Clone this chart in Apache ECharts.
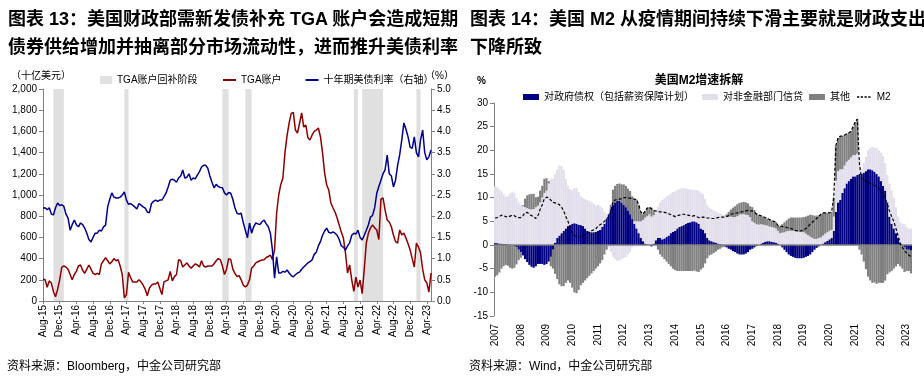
<!DOCTYPE html>
<html><head><meta charset="utf-8">
<script src="https://cdn.jsdelivr.net/npm/echarts@6/dist/echarts.min.js"></script>
<style>
html,body{margin:0;padding:0;background:#fff;}
#wrap{position:relative;width:924px;height:377px;overflow:hidden;}
#chart{position:absolute;left:0;top:0;width:924px;height:377px;}
.h{position:absolute;font-family:'Liberation Sans','Noto Sans CJK SC',sans-serif;font-weight:bold;font-size:18px;line-height:28px;color:#000;white-space:nowrap;}
.s{position:absolute;font-family:'Liberation Sans','Noto Sans CJK SC',sans-serif;font-size:12px;color:#000;white-space:nowrap;}
</style></head>
<body><div id="wrap">
<div id="chart"></div>
<div class="h" style="left:8px;top:5px;">图表 13：美国财政部需新发债补充 TGA 账户会造成短期<br>债券供给增加并抽离部分市场流动性，进而推升美债利率</div>
<div class="h" style="left:470px;top:5px;">图表 14：美国 M2 从疫情期间持续下滑主要就是财政支出<br>下降所致</div>
<div class="s" style="left:7px;top:356px;">资料来源：Bloomberg，中金公司研究部</div>
<div class="s" style="left:469px;top:356px;">资料来源：Wind，中金公司研究部</div>
</div>
<script>
// ---------- Left chart data (half-monthly, Aug-2015 .. May-2023) ----------
const tga = [
207,200, 130,190, 170,90, 40,110, 200,320,
330,320, 300,250, 200,250, 280,330, 340,290, 260,300, 340,300, 260,250, 260,250, 350,380, 410,380, 350,370,
400,380, 390,330, 250,30, 60,270, 220,180, 180,180, 200,180, 150,110, 50,120, 150,160, 160,180, 120,60,
180,190, 200,280, 190,230, 250,390, 380,320, 340,360, 330,310, 330,350, 340,320, 380,330, 320,330, 330,330,
350,380, 400,390, 330,250, 300,400, 390,300, 260,230, 240,200, 150,132, 150,200, 310,330, 360,370, 380,387,
390,410, 420,434, 390,480, 830,1000, 1100,1160, 1400,1560, 1680,1770, 1780,1613, 1585,1679, 1774,1641, 1660,1540, 1519,1566,
1600,1613, 1632,1550, 1400,1208, 1094,1047, 924,880, 840,783, 717,650, 594,453, 264,340, 200,90, 226,132, 198,70,
300,547, 640,690, 717,690, 670,580, 960,972, 858,764, 745,700, 623,560, 547,670, 623,640, 594,540, 481,400,
321,547, 509,453, 300,200, 170,85, 264
];
const ust10y = [
2.19,2.2, 2.15,2.2, 2.05,2.03, 2.2,2.31, 2.25,2.27,
2.23,2.05, 1.96,1.67, 1.8,1.91, 1.8,1.75, 1.84,1.8, 1.72,1.6, 1.45,1.39, 1.5,1.6, 1.6,1.67, 1.65,1.75, 1.79,2.22, 2.4,2.55,
2.45,2.43, 2.43,2.45, 2.5,2.57, 2.38,2.28, 2.3,2.26, 2.22,2.17, 2.3,2.26, 2.22,2.19, 2.1,2.08, 2.3,2.35, 2.38,2.35, 2.38,2.38,
2.46,2.55, 2.69,2.85, 2.87,2.85, 2.8,2.9, 2.95,3.09, 2.9,2.92, 3.0,2.85, 2.9,2.88, 2.97,3.05, 3.16,3.2, 3.2,3.13, 2.95,2.8,
2.67,2.75, 2.7,2.68, 2.67,2.55, 2.5,2.56, 2.54,2.4, 2.2,2.07, 2.05,2.07, 1.85,1.67, 1.49,1.84, 1.6,1.75, 1.84,1.82, 1.8,1.87,
1.91,1.82, 1.75,1.6, 1.2,0.54, 1.04,0.66, 0.66,0.7, 0.68,0.73, 0.66,0.6, 0.57,0.62, 0.66,0.68, 0.75,0.8, 0.85,0.9, 0.93,0.97,
1.1,1.15, 1.3,1.4, 1.55,1.65, 1.72,1.62, 1.6,1.63, 1.6,1.55, 1.45,1.3, 1.27,1.2, 1.3,1.37, 1.55,1.6, 1.58,1.67, 1.5,1.44,
1.55,1.67, 1.8,1.98, 2.02,2.2, 2.54,2.7, 2.85,3.0, 3.1,3.44, 3.0,2.95, 2.69,2.85, 3.2,3.45, 3.8,4.2, 4.05,3.87, 3.63,3.6,
3.87,3.5, 3.4,3.8, 4.03,3.5, 3.33,3.4, 3.56
];
const tgaPhases = [
['2015-10-15','2016-01-01'],['2017-03-15','2017-04-15'],['2019-03-01','2019-04-15'],
['2019-08-15','2019-10-01'],['2021-10-15','2021-11-15'],['2021-12-15','2022-05-15'],['2023-01-15','2023-02-15']
];

// ---------- Right chart data (monthly, Jan-2007 .. Mar-2023) ----------
const govClaims = [
0.4,0.4,0.3,0.3,0.2,0.2,0.1,0.1,0,-0.2,-0.5,-1.0,
-1.5,-2.2,-3,-3.6,-4.2,-4.6,-4.8,-4.5,-4,-4,-4,-4.2,
-4,-3.5,-2.5,-1,0.5,1.5,2,2.5,3,3.5,4,4.2,
4.5,4.6,4.5,4.3,4.2,4,3.5,3,2.8,2.7,2.7,2.8,
3,3.2,3.8,4.5,5.5,6.5,7.5,8.5,9,9.3,9.3,9,
8.5,8,7.3,6.5,5.5,4.5,3.5,2.5,1.5,0.8,0.3,0.1,
0,-0.3,0.3,1,1.5,1.5,1.2,1.4,1.7,2,2.5,2.8,
3,3.5,3.8,4,4.2,4.5,4.7,4.8,5,5,4.8,4.5,
3.5,3.2,2.5,1.5,1,0.8,0.6,0.5,0.3,0.2,0,-0.3,
-0.5,-0.8,-1,-1.3,-1.5,-1.8,-2,-2,-2,-1.8,-1.5,-1,
-0.8,-0.5,-0.2,0,0.3,0.5,0.7,0.8,0.8,0.7,0.6,0.5,
0.3,0,-0.5,-1,-1.5,-2,-2.3,-2.5,-2.7,-2.8,-2.8,-2.8,
-2.7,-2.5,-2.3,-2,-1.5,-1,-0.6,-0.3,0,0.3,0.6,0.9,
1.2,1.5,3,7,9,9.5,11,12,13,13.5,14,14.5,
14.5,14.8,15,15,15.3,15.6,16,16,15.8,15.5,15,14.5,
13.5,12.5,11.5,9,6,4.5,3.5,2.5,1.5,0.5,0,-0.5,
-1,-1,-1.2
];
const nonfinCredit = [
12.0,11.8,11.5,11.0,10.5,10.0,10.2,10.8,11.3,11.0,10.0,9.0,
8.5,8.2,8.0,7.8,7.6,7.5,7.6,8.0,8.3,9.0,10.0,11.0,
11.5,13,14,14,14.5,14.5,14.8,14.2,12.9,10.5,8.5,7.6,
7.0,7.4,7.5,6.9,6.1,5.9,6.2,6.5,6.5,6.3,6.0,5.6,
5.5,5,4,2.5,1,-0.5,-1.5,-2.5,-3,-3.3,-3.3,-3,
-2.8,-2.5,-2,-1.5,-0.5,0.5,1.5,2.5,3.5,4.5,5.5,6,
6.5,6.0,6.0,6.2,6.6,7.5,8.3,8.5,8.6,8.6,8.4,8.4,
8.3,8.2,8.0,8.0,7.8,7.4,7.1,6.9,6.6,6.6,6.8,7.0,
7.5,7.5,7.2,7,6.9,6.8,6.7,6.6,6.5,6.5,6.4,6.3,
6.0,6.0,6.0,5.9,5.9,6.1,6.4,6.5,6.5,6.4,6.3,5.9,
5.0,4.7,4.4,4.3,4.1,3.8,3.5,3.3,3.1,3.1,3.1,3.0,
2.7,2.5,2.6,2.7,2.9,3.0,3.0,3.0,2.9,2.9,2.8,2.8,
2.7,2.4,2.1,1.8,1.5,1.3,1.3,1.5,1.6,1.7,1.8,1.8,
1.8,1.7,3.0,6.6,6.6,6.5,5,4.8,4.6,4.5,4.5,4.5,
4.5,4.5,3,1,2,3,4,4.5,5,5,5.5,5.5,
6,6.3,5.8,5.8,7,7,6.5,5.5,4.5,4.3,4.5,4.5,
3.8,3.4,3.5
];
const otherItems = [
-6.7,-6.4,-5.8,-5,-4.5,-4.2,-4.4,-4.8,-5,-4.6,-3.6,-2.2,
-1.2,0.2,1.8,2.7,3.1,3.3,3.2,2.1,1.9,2.5,2.5,3,
2.6,0.5,-2,-4,-6.1,-7.2,-8.3,-8.7,-8.7,-8,-7.5,-8,
-9,-10,-10.2,-9.5,-8.5,-8,-7.5,-7,-6.5,-6,-5.5,-5,
-4.5,-3.9,-3.2,-2.0,-1.0,0,1.0,3.2,3.5,3.6,3.7,3.8,
4.3,4.5,4.6,4.9,4.8,4.7,4.6,3.5,2.0,1.2,1.4,1.7,
1.5,1.9,1.0,0,-1,-2,-2.5,-3,-3.5,-4,-4.5,-5,
-5.3,-5.5,-5.5,-5.5,-5.5,-5.5,-5.5,-5.5,-5.5,-5.4,-5.6,-5.7,
-5.2,-4.8,-3.9,-2.8,-2.2,-2.0,-1.7,-1.4,-1.0,-0.8,-0.5,-0.1,
0.5,1,1.5,2,2.3,2.5,2.5,2.5,2.6,2.6,2.5,2.3,
3,2.7,2.3,2,1.8,1.7,1.6,1.5,1.5,1.4,1.3,1.3,
1.1,1.5,1.8,2.1,2.3,2.6,2.8,2.8,2.9,2.9,3.0,3.0,
3.2,3.6,4.1,4.6,4.8,4.9,4.9,4.8,4.9,4.8,4.4,4.1,
3.8,3.8,4,7.4,7,7,7,6.4,5.9,5.7,5.5,6.0,
7,7.3,-1,-2,-3.5,-5.1,-6.7,-7.5,-8,-7.9,-8.2,-8.0,
-8,-8,-7.5,-6.2,-5.8,-5.5,-5,-4.5,-4,-4.5,-5,-5.2,
-4.5,-4.5,-4.8
];
const m2Growth = [
5.7,5.8,6.0,6.3,6.2,6.0,5.9,6.1,6.3,6.2,5.9,5.8,
5.8,6.2,6.8,6.9,6.5,6.2,6.0,5.6,6.2,7.5,8.5,9.8,
10.1,10.0,9.5,9.0,8.9,8.8,8.5,8.0,7.2,6.0,5.0,3.8,
2.5,2.0,1.8,1.7,1.8,1.9,2.2,2.5,2.8,3.0,3.2,3.4,
4.0,4.3,4.6,5.0,5.5,6.0,7.0,9.2,9.5,9.6,9.7,9.8,
10,10,9.9,9.9,9.8,9.7,9.6,8.5,7,6.5,7.2,7.8,
8,7.6,7.3,7.2,7.1,7,7,6.9,6.8,6.6,6.4,6.2,
6,6.2,6.3,6.5,6.5,6.4,6.3,6.2,6.1,6.2,6.0,5.8,
5.8,5.9,5.8,5.7,5.7,5.6,5.6,5.7,5.8,5.9,5.9,5.9,
6,6.2,6.5,6.6,6.7,6.8,6.9,7,7.1,7.2,7.3,7.2,
7.2,6.9,6.5,6.3,6.2,6.0,5.8,5.6,5.4,5.2,5.0,4.8,
4.1,4.0,3.9,3.8,3.7,3.6,3.5,3.3,3.1,3.0,3.0,3.0,
3.2,3.5,3.9,4.4,4.8,5.2,5.6,6.0,6.5,6.8,6.8,6.8,
6.8,7.0,10,21,22.6,23,23,23.2,23.5,23.7,24,25,
26,26.6,17,14,13.8,13.5,13.3,13,12.8,12.6,12.3,12,
11.5,10.8,9.8,8.6,7.2,6,5,3.5,2,0.3,-0.5,-1.2,
-1.7,-2.1,-2.5
];

// ---------- categories ----------
const MON = ['Jan','Feb','Mar','Apr','May','Jun','Jul','Aug','Sep','Oct','Nov','Dec'];
const tgaDates = [];
for (let m = 0; m <= 93; m++) {
  const y = 2015 + Math.floor((7 + m) / 12), mo = (7 + m) % 12;
  for (const d of ['01','15']) {
    if (m === 93 && d === '15') continue;
    tgaDates.push(y + '-' + String(mo + 1).padStart(2,'0') + '-' + d);
  }
}
const m2Months = [];
for (let y = 2007; y <= 2023; y++) for (let mo = 1; mo <= 12; mo++) {
  if (y === 2023 && mo > 3) break;
  m2Months.push(y + '-' + String(mo).padStart(2,'0'));
}

const FONT = "'Liberation Sans','Noto Sans CJK SC',sans-serif";
const AX = '#808080';
const DASH_ICON = 'path://M0,0h3v2h-3z M5,0h3v2h-3z M10,0h3v2h-3z M15,0h3v2h-3z';
const chart = echarts.init(document.getElementById('chart'), null, {renderer:'canvas'});
const legendText = {fontSize:10, color:'#000', fontFamily:FONT};

chart.setOption({
  animation:false,
  backgroundColor:'#fff',
  textStyle:{fontFamily:FONT},
  title:{text:'美国M2增速拆解', left:694, top:70, textAlign:'center',
    textStyle:{fontSize:12, fontWeight:'bold', color:'#000', fontFamily:FONT}},
  graphic:[
    {type:'text', left:11, top:71, style:{text:'（十亿美元）', fill:'#000', font:'10px '+FONT}},
    {type:'text', left:425, top:71, style:{text:'（%）', fill:'#000', font:'10px '+FONT}},
    {type:'text', left:477, top:76, style:{text:'%', fill:'#000', font:'bold 10px '+FONT}}
  ],
  legend:[
    {left:95, top:70, itemWidth:12, itemHeight:8, icon:'rect', data:['TGA账户回补阶段'], textStyle:legendText},
    {left:218, top:70, itemWidth:13, itemHeight:2, itemGap:24, icon:'rect', data:['TGA账户','十年期美债利率（右轴）'], textStyle:legendText},
    {left:518, top:87, itemWidth:16, itemHeight:6, icon:'rect', data:['对政府债权（包括薪资保障计划）'], textStyle:legendText},
    {left:697, top:87, itemWidth:16, itemHeight:6, icon:'rect', data:['对非金融部门信贷'], textStyle:legendText},
    {left:804, top:87, itemWidth:16, itemHeight:6, icon:'rect', data:['其他'], textStyle:legendText},
    {left:852, top:87, itemWidth:16, itemHeight:1.5, itemGap:2, icon:DASH_ICON, data:['M2'], textStyle:legendText}
  ],
  grid:[
    {left:43, top:89, width:388, height:212},
    {left:494, top:103, width:418, height:213}
  ],
  xAxis:[
    {type:'category', gridIndex:0, data:tgaDates, boundaryGap:false,
     axisLine:{lineStyle:{color:AX}},
     axisTick:{show:true, interval:(i)=>i%8===0, length:3, lineStyle:{color:AX}},
     axisLabel:{interval:(i)=>i%8===0, rotate:90, fontSize:10, color:'#000', margin:4,
       formatter:(v)=>MON[+v.slice(5,7)-1]+'-'+v.slice(2,4)}},
    {type:'category', gridIndex:1, data:m2Months, boundaryGap:true,
     axisLine:{show:false}, axisTick:{show:false},
     axisLabel:{interval:(i)=>i%12===0, rotate:90, fontSize:10, color:'#000', margin:8,
       formatter:(v)=>v.slice(0,4)}}
  ],
  yAxis:[
    {type:'value', gridIndex:0, position:'left', min:0, max:2000, interval:200,
     splitLine:{show:false}, axisLine:{show:true, lineStyle:{color:AX}},
     axisTick:{show:true, length:4, lineStyle:{color:AX}},
     axisLabel:{fontSize:10, color:'#000', margin:6, formatter:(v)=>v.toLocaleString('en-US')}},
    {type:'value', gridIndex:0, position:'right', min:0, max:5, interval:0.5,
     splitLine:{show:false}, axisLine:{show:true, lineStyle:{color:AX}},
     axisTick:{show:true, length:4, lineStyle:{color:AX}},
     axisLabel:{fontSize:10, color:'#000', margin:6, formatter:(v)=>v.toFixed(1)}},
    {type:'value', gridIndex:1, min:-15, max:30, interval:5,
     splitLine:{show:false}, axisLine:{show:true, lineStyle:{color:AX}},
     axisTick:{show:true, length:4, lineStyle:{color:AX}},
     axisLabel:{fontSize:10, color:'#000', margin:6}}
  ],
  series:[
    {name:'TGA账户回补阶段', type:'bar', xAxisIndex:0, yAxisIndex:0, data:[], itemStyle:{color:'#E0E0E0'}},
    {name:'TGA账户', type:'line', xAxisIndex:0, yAxisIndex:0, data:tga, symbol:'none',
     lineStyle:{color:'#8B0000', width:1.5}, itemStyle:{color:'#8B0000'}, z:3,
     markArea:{silent:true, itemStyle:{color:'#E0E0E0'},
       data:tgaPhases.map(p=>[{xAxis:p[0]},{xAxis:p[1]}])}},
    {name:'十年期美债利率（右轴）', type:'line', xAxisIndex:0, yAxisIndex:1, data:ust10y, symbol:'none',
     lineStyle:{color:'#00008B', width:1.5}, itemStyle:{color:'#00008B'}, z:4},
    {name:'对政府债权（包括薪资保障计划）', type:'bar', xAxisIndex:1, yAxisIndex:2, stack:'m2', data:govClaims,
     barCategoryGap:'0%', itemStyle:{color:'#000080'},
     markLine:{silent:true, symbol:['none','none'], label:{show:false},
       lineStyle:{color:AX, type:'solid', width:1.5}, data:[{yAxis:0}]}},
    {name:'对非金融部门信贷', type:'bar', xAxisIndex:1, yAxisIndex:2, stack:'m2', data:nonfinCredit,
     barCategoryGap:'0%', itemStyle:{color:'#E3DEEB'}},
    {name:'其他', type:'bar', xAxisIndex:1, yAxisIndex:2, stack:'m2', data:otherItems,
     barCategoryGap:'0%', itemStyle:{color:'#808080'}},
    {name:'M2', type:'line', xAxisIndex:1, yAxisIndex:2, data:m2Growth, symbol:'none', z:5,
     lineStyle:{color:'#000', width:1.2, type:[3,2]}, itemStyle:{color:'#000'}}
  ]
});
</script>
</body></html>
